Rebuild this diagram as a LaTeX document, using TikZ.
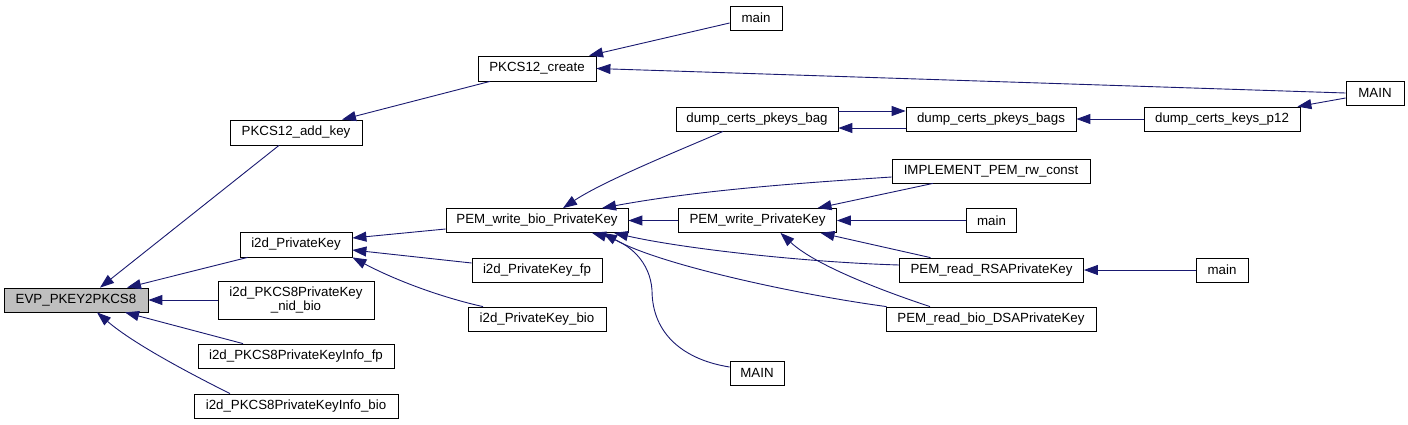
\documentclass[tikz,border=0pt]{standalone}
\usepackage{fontspec}
\setmainfont{Liberation Sans}
\usetikzlibrary{arrows.meta, positioning}
\definecolor{edgeblue}{RGB}{25,25,112}
\definecolor{rootgrey}{RGB}{191,191,191}
\tikzstyle{fnbox}=[rectangle, draw=black, line width=0.8pt, fill=white,
  inner sep=0pt, minimum height=24pt, align=center,
  font=\fontsize{13.3}{14.5}\selectfont]
\tikzstyle{carr}=[-{Triangle[length=14pt,width=10pt]}, line width=0.9pt, color=edgeblue]

\begin{document}
\begin{tikzpicture}[x=1pt,y=-1pt]
        \useasboundingbox (0,0) rectangle (1408,424);
        % rank 0 and 1
        \node[fnbox, fill=rootgrey, minimum width=144pt] (evp) at (76,300) {EVP\_PKEY2PKCS8};
        \node[fnbox, minimum width=132pt, minimum height=25pt] (addkey) at (296,132.5) {PKCS12\_add\_key};
        \node[fnbox, minimum width=112pt, minimum height=25pt] (i2dpk) at (296,244.5) {i2d\_PrivateKey};
        \node[fnbox, minimum width=156pt, minimum height=38pt] (nidbio) at (296,300)
          {i2d\_PKCS8PrivateKey\\\_nid\_bio};
        \node[fnbox, minimum width=196pt] (infofp) at (296,356) {i2d\_PKCS8PrivateKeyInfo\_fp};
        \node[fnbox, minimum width=204pt] (infobio) at (296,406) {i2d\_PKCS8PrivateKeyInfo\_bio};
        % rank 2
        \node[fnbox, minimum width=118pt, minimum height=25pt] (create) at (537,68.5) {PKCS12\_create};
        \node[fnbox, minimum width=182pt] (pwbio) at (537,220.5) {PEM\_write\_bio\_PrivateKey};
        \node[fnbox, minimum width=130pt] (i2dfp) at (537,270) {i2d\_PrivateKey\_fp};
        \node[fnbox, minimum width=138pt] (i2dbio) at (537,319) {i2d\_PrivateKey\_bio};
        % rank 3
        \node[fnbox, minimum width=52pt] (maintop) at (756,18) {main};
        \node[fnbox, minimum width=162pt] (bag) at (757,119) {dump\_certs\_pkeys\_bag};
        \node[fnbox, minimum width=158pt] (pwpk) at (757.5,220.5) {PEM\_write\_PrivateKey};
        \node[fnbox, minimum width=54pt] (mainB) at (757,373) {MAIN};
        % rank 4
        \node[fnbox, minimum width=170pt] (bags) at (991,119) {dump\_certs\_pkeys\_bags};
        \node[fnbox, minimum width=198pt] (impl) at (991,171) {IMPLEMENT\_PEM\_rw\_const};
        \node[fnbox, minimum width=50pt] (mainmid) at (991.5,220.5) {main};
        \node[fnbox, minimum width=184pt] (rsa) at (991.5,270) {PEM\_read\_RSAPrivateKey};
        \node[fnbox, minimum width=210pt] (dsa) at (991,319) {PEM\_read\_bio\_DSAPrivateKey};
        % rank 5 and 6
        \node[fnbox, minimum width=156pt] (p12) at (1222,119) {dump\_certs\_keys\_p12};
        \node[fnbox, minimum width=52pt] (mainRSA) at (1222,270) {main};
        \node[fnbox, minimum width=58pt] (mainR) at (1375,93) {MAIN};
        % callers of EVP_PKEY2PKCS8
        \draw[carr] ([xshift=-17pt]addkey.south) -- ([xshift=24pt]evp.north);
        \draw[carr] ([xshift=8pt]i2dpk.south west) -- ([xshift=51pt]evp.north);
        \draw[carr] (nidbio.west) -- (evp.east);
        \draw[carr] ([xshift=-53pt]infofp.north) -- ([xshift=49pt]evp.south);
        \draw[carr] ([xshift=-66pt]infobio.north) .. controls (195,376) and (135,345) .. ([xshift=21pt]evp.south);
        % PKCS12 branch
        \draw[carr] ([xshift=-47pt]create.south) -- ([xshift=46pt]addkey.north);
        \draw[carr] ([yshift=-5pt]maintop.west) -- ([xshift=52pt]create.north);
        \draw[carr] (mainR.west) -- (create.east);
        % i2d_PrivateKey branch
        \draw[carr] ([yshift=-8.5pt]pwbio.west) -- ([yshift=6.5pt]i2dpk.east);
        \draw[carr] ([yshift=7pt]i2dfp.west) -- ([yshift=-5.5pt]i2dpk.east);
        \draw[carr] ([xshift=-54pt]i2dbio.north) .. controls (440,297) and (395,280) .. (i2dpk.south east);
        % PEM_write_bio_PrivateKey callers
        \draw[carr] ([xshift=-34pt]bag.south) .. controls (690,146) and (605,180) .. ([xshift=26pt]pwbio.north);
        \draw[carr] ([yshift=-6pt]impl.west) .. controls (800,183) and (700,190) .. ([xshift=65pt]pwbio.north);
        \draw[carr] (pwpk.west) -- (pwbio.east);
        \draw[carr] ([yshift=5pt]rsa.west) .. controls (800,262) and (680,248) .. ([xshift=77pt]pwbio.south);
        \draw[carr] ([xshift=1pt]dsa.north west) .. controls (800,295) and (660,265) .. ([xshift=66pt]pwbio.south);
        \draw[carr] ([yshift=6pt]mainB.west) .. controls (685,360) and (652,335) .. (652,290)
          .. controls (650,262) and (630,243) .. ([xshift=55pt]pwbio.south);
        % dump_certs chain
        \draw[carr] ([yshift=8pt]bag.east) -- ([yshift=8pt]bags.west);
        \draw[carr] ([yshift=-9pt]bags.west) -- ([yshift=-9pt]bag.east);
        \draw[carr] (p12.west) -- (bags.east);
        \draw[carr] ([yshift=-5pt]mainR.west) -- ([xshift=-3pt]p12.north east);
        % PEM_write_PrivateKey callers
        \draw[carr] ([xshift=-58pt]impl.south) -- ([xshift=60pt]pwpk.north);
        \draw[carr] (mainmid.west) -- (pwpk.east);
        \draw[carr] ([xshift=-61pt]rsa.north) -- ([xshift=63pt]pwpk.south);
        \draw[carr] ([xshift=-61pt]dsa.north) .. controls (880,290) and (815,265) .. ([xshift=23pt]pwpk.south);
        \draw[carr] (mainRSA.west) -- (rsa.east);
      \end{tikzpicture}
\end{document}
